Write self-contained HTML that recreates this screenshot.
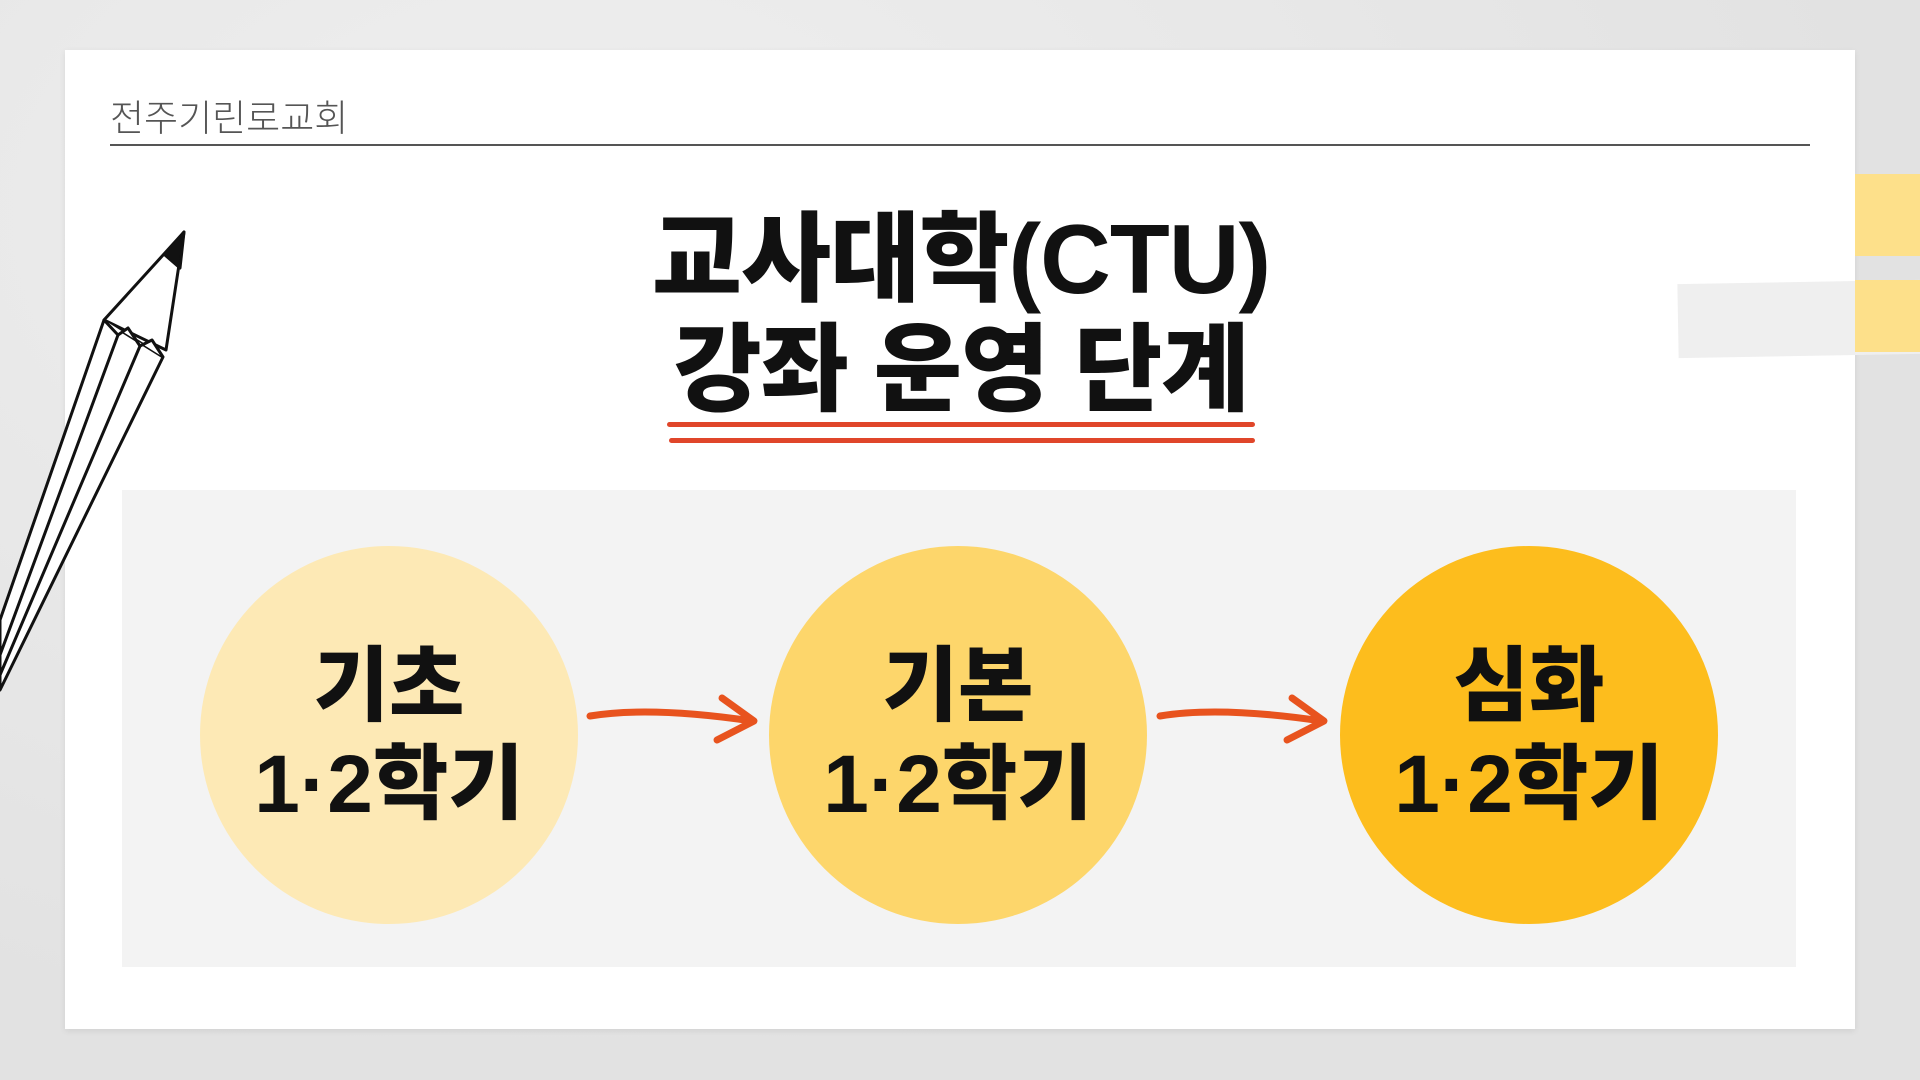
<!DOCTYPE html>
<html><head><meta charset="utf-8"><style>
html,body{margin:0;padding:0;width:1920px;height:1080px;overflow:hidden;background:#e6e6e6;font-family:"Liberation Sans","Noto Sans CJK KR",sans-serif;}
.abs{position:absolute;}
</style></head><body>
<div class="abs" style="left:0;top:0;width:1920px;height:1080px;background:radial-gradient(ellipse at 30% 20%,#efefef,#e2e2e2 70%);"></div>
<!-- card -->
<div class="abs" style="left:65px;top:50px;width:1790px;height:979px;background:#fff;box-shadow:0 2px 6px rgba(0,0,0,0.08);"></div>
<!-- tape right -->
<div class="abs" style="left:1855px;top:174px;width:65px;height:82px;background:#fde08a;"></div>
<div class="abs" style="left:1678px;top:282px;width:242px;height:74px;background:#efefef;transform:rotate(-1deg);"></div>
<div class="abs" style="left:1855px;top:280px;width:65px;height:72px;background:#fde08a;"></div>
<div class="abs" style="left:110px;top:88px;font-size:37px;color:#555;font-weight:300;">전주기린로교회</div>
<div class="abs" style="left:110px;top:144px;width:1700px;height:2px;background:#555;"></div>
<div class="abs" style="left:361px;top:203px;width:1200px;text-align:center;font-size:98px;font-weight:900;color:#111;line-height:112px;letter-spacing:-1px;">교사대학(CTU)</div>
<div class="abs" style="left:361px;top:315px;width:1200px;text-align:center;font-size:96px;font-weight:900;color:#111;line-height:112px;letter-spacing:-1px;">강좌 운영 단계</div>
<div class="abs" style="left:667px;top:422px;width:588px;height:5px;background:#e0462a;border-radius:3px;"></div>
<div class="abs" style="left:669px;top:438px;width:586px;height:5px;background:#e0462a;border-radius:3px;"></div>
<div class="abs" style="left:122px;top:490px;width:1674px;height:477px;background:#f3f3f3;"></div>
<div class="abs" style="left:200px;top:546px;width:378px;height:378px;border-radius:50%;background:#fde9b5;"></div>
<div class="abs" style="left:769px;top:546px;width:378px;height:378px;border-radius:50%;background:#fdd66b;"></div>
<div class="abs" style="left:1340px;top:546px;width:378px;height:378px;border-radius:50%;background:#fdbd1d;"></div>
<div class="abs" style="left:200px;top:638px;width:378px;text-align:center;font-size:82px;font-weight:900;line-height:98px;color:#111;">기초<br>1·2학기</div>
<div class="abs" style="left:769px;top:638px;width:378px;text-align:center;font-size:82px;font-weight:900;line-height:98px;color:#111;">기본<br>1·2학기</div>
<div class="abs" style="left:1340px;top:638px;width:378px;text-align:center;font-size:82px;font-weight:900;line-height:98px;color:#111;">심화<br>1·2학기</div>
<svg class="abs" style="left:0;top:0" width="1920" height="1080">
<g fill="none" stroke="#e8531e" stroke-width="7" stroke-linecap="round" stroke-linejoin="round">
<path d="M590 716 Q650 706 752 721"/><path d="M722 698 L754 721 L717 740"/>
<path d="M1160 716 Q1220 706 1322 721"/><path d="M1292 698 L1324 721 L1287 740"/>
</g>
<g fill="#fff" stroke="#111" stroke-width="3" stroke-linejoin="round">
<path d="M0 620 L104 320 L163 357 L0 690 Z"/>
<path d="M104 320 L184 232 L166 350 Z"/>
<path d="M184 232 L165 255 L180 268 Z" fill="#111"/>
<path d="M104 320 L118 335 L128 328 L140 346 L152 340 L163 357" />
<path d="M0 655 L118 335 M0 675 L140 346" />
</g>
</svg>
</body></html>
